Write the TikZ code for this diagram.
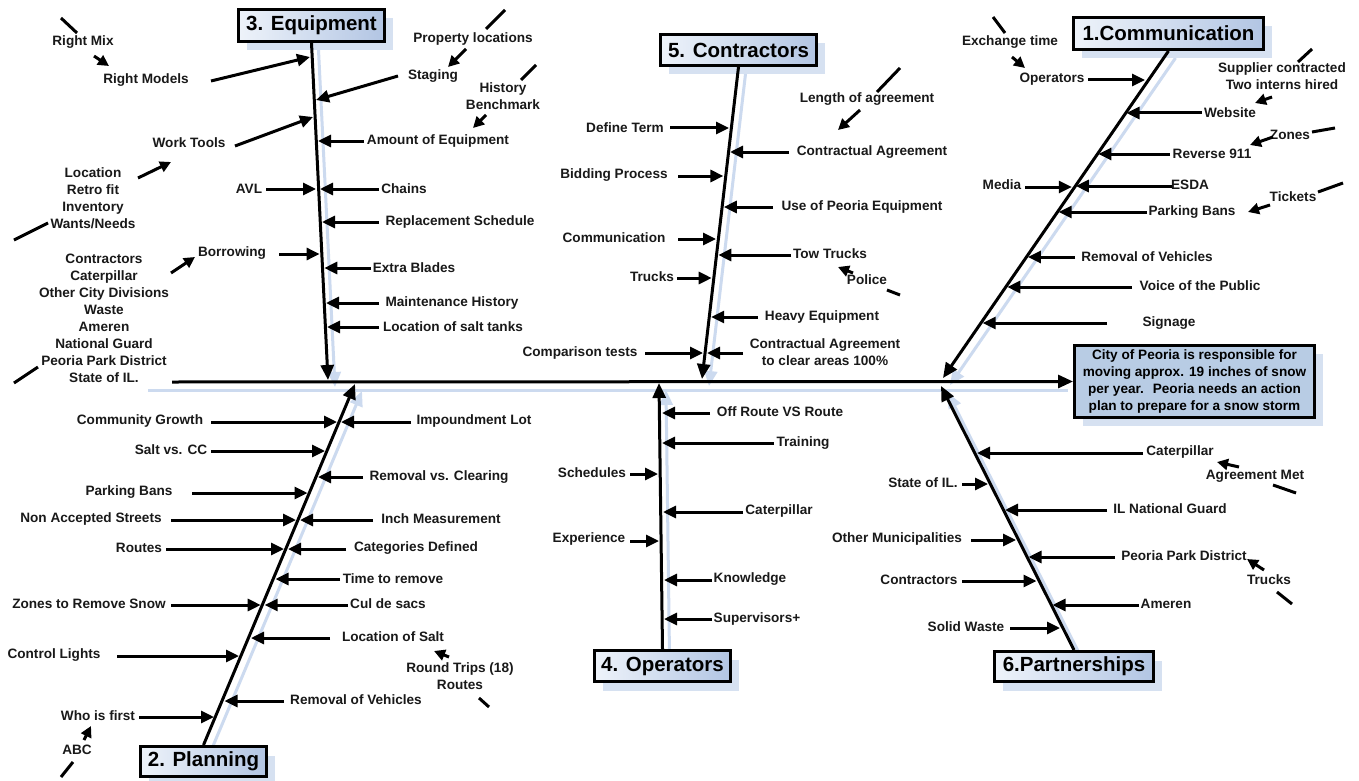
\documentclass[tikz,border=0pt]{standalone}
\usepackage{fontspec}
\setmainfont{Liberation Sans}
\usetikzlibrary{arrows.meta,shadows,backgrounds}
\definecolor{shd}{HTML}{D6E1F1}
\definecolor{bxl}{HTML}{EEF3FA}
\definecolor{bxr}{HTML}{B2C5E3}
\definecolor{mainbx}{HTML}{B8CCE4}
\definecolor{bshd}{HTML}{CCDAEF}
\newcommand\mylbl[4]{\node[lbl] (#1) at (#2,#3) {#4};}
\newcommand\myrib[5]{\coordinate (#1a) at (#2,#3);\coordinate (#1b) at (#4,#5);\draw[rib] (#1a) -- (#1b);}
\newcommand\mystub[5]{\coordinate (#1a) at (#2,#3);\coordinate (#1b) at (#4,#5);\draw[stub] (#1a) -- (#1b);}
\newcommand\mypoint[5]{\coordinate (#1a) at (#2,#3);\coordinate (#1b) at (#4,#5);\draw[ptr] (#1a) -- (#1b);}
\begin{document}
\begin{tikzpicture}[x=1pt,y=-1pt,
  lbl/.style={font=\fontsize{13.6}{17}\selectfont\bfseries, inner sep=0pt, align=center, text=black!90},
  rib/.style={line width=3pt, -{Triangle[length=13pt,width=12pt]}},
  stub/.style={line width=3pt},
  ptr/.style={line width=3pt, -{Triangle[length=11pt,width=11pt]}},
  bone/.style={line width=3pt, -{Triangle[length=15pt,width=13pt]}},
  tbox/.style={draw, line width=3pt, left color=bxl, right color=bxr, inner sep=0pt,
    font=\fontsize{20.5}{24}\selectfont\bfseries,
    drop shadow={shadow xshift=8pt, shadow yshift=-9pt, fill=shd, opacity=1}},
  mbox/.style={draw, line width=3pt, fill=mainbx, inner sep=0pt, align=center,
    font=\fontsize{13.6}{17}\selectfont\bfseries,
    drop shadow={shadow xshift=8pt, shadow yshift=-8pt, fill=shd, opacity=1}}]
\useasboundingbox (0,0) rectangle (1359,781);
\begin{pgfonlayer}{background}
\fill[white] (0,0) rectangle (1359,781);
\end{pgfonlayer}

% category boxes
\node[tbox, minimum width=146pt, minimum height=32pt] (eq) at (311.5,25.5) {3. Equipment};
\node[tbox, minimum width=156pt, minimum height=31pt] (co) at (738.5,50) {5. Contractors};
\node[tbox, minimum width=190pt, minimum height=32pt] (cm) at (1168.5,33.5) {1.Communication};
\node[tbox, minimum width=126pt, minimum height=30pt] (pl) at (203.5,761.5) {2. Planning};
\node[tbox, minimum width=136pt, minimum height=31pt] (op) at (662.5,666) {4. Operators};
\node[tbox, minimum width=159pt, minimum height=30pt] (pa) at (1074,666.5) {6.Partnerships};
\node[mbox, minimum width=240pt, minimum height=72pt] (mn) at (1194.5,381.5)
  {City of Peoria is responsible for\\moving approx. 19 inches of snow\\per year.~ Peoria needs an action\\plan to prepare for a snow storm};

% spine and bones
\coordinate (sp) at (172,382);
\coordinate (eqe) at (328,380);
\coordinate (coe) at (702,379);
\coordinate (cme) at (943,378);
\coordinate (ple) at (355,384);
\coordinate (ope) at (659,383);
\coordinate (pae) at (941,386);
\coordinate (sps) at (148,390);
\coordinate (spe) at (1068,390);
\begin{pgfonlayer}{background}
\draw[line width=3pt, bshd] (sps) -- (spe);
\begin{scope}[transform canvas={shift={(7pt,-7pt)}}]
\draw[bone, bshd] (eq.south) -- (eqe);
\draw[bone, bshd] (co.south) -- (coe);
\draw[bone, bshd] (cm.south) -- (cme);
\draw[bone, bshd] (pl.north) -- (ple);
\draw[bone, bshd] (op.north) -- (ope);
\draw[bone, bshd] (pa.north) -- (pae);
\end{scope}
\end{pgfonlayer}
\draw[bone] (sp) -- (mn.west);
\draw[bone] (eq.south) -- (eqe);
\draw[bone] (co.south) -- (coe);
\draw[bone] (cm.south) -- (cme);
\draw[bone] (pl.north) -- (ple);
\draw[bone] (op.north) -- (ope);
\draw[bone] (pa.north) -- (pae);

% ---- Equipment
\mylbl{e1}{83}{42}{Right Mix}
\mystub{s1}{61}{18}{77}{33}
\mypoint{p1}{94}{56}{109}{66}
\mylbl{e2}{146}{80}{Right Models}
\myrib{r1}{211}{81}{310}{57}
\mylbl{e3}{473}{39}{Property locations}
\mystub{s2}{505}{10}{486}{29}
\mypoint{p2}{466}{49}{448}{67}
\mylbl{e4}{433}{76}{Staging}
\myrib{r2}{398}{76}{316}{100}
\mylbl{e5}{503}{96}{History\\Benchmark}
\mystub{s3}{536}{65}{521}{80}
\mypoint{p3}{486}{115}{473}{128}
\mylbl{e6}{189}{143}{Work Tools}
\myrib{r3}{235}{146}{313}{117}
\mylbl{e7}{438}{141}{Amount of Equipment}
\myrib{r4}{364}{141}{318}{141}
\mylbl{e8}{93}{198.5}{Location\\Retro fit\\Inventory\\Wants/Needs}
\mypoint{p4}{138}{178}{171}{162}
\mystub{s4}{14}{240}{48}{223}
\mylbl{e9}{249}{189}{AVL}
\myrib{r5}{266}{189}{316}{189}
\mylbl{e10}{404}{189}{Chains}
\myrib{r6}{379}{189}{320}{189}
\mylbl{e11}{460}{222}{Replacement Schedule}
\myrib{r7}{379}{222}{322}{222}
\mylbl{e12}{232}{253}{Borrowing}
\myrib{r8}{279}{254}{319.6}{254}
\mypoint{p5}{171}{273}{195}{257}
\mylbl{e13}{104}{318}{Contractors\\Caterpillar\\Other City Divisions\\Waste\\Ameren\\National Guard\\Peoria Park District\\State of IL.}
\mystub{s5}{14}{383}{38}{367}
\mylbl{e14}{414}{268}{Extra Blades}
\myrib{r9}{371}{268}{324.3}{268}
\mylbl{e15}{452}{303}{Maintenance History}
\myrib{r10}{379}{303}{326}{303}
\mylbl{e16}{453}{327}{Location of salt tanks}
\myrib{r11}{379}{327}{327}{327}

% ---- Contractors
\mylbl{c1}{867}{99}{Length of agreement}
\mystub{s6}{900}{68}{877}{92}
\mypoint{p6}{860}{110}{838}{130}
\mylbl{c2}{625}{128}{Define Term}
\myrib{r12}{670}{128}{729}{128}
\mylbl{c3}{872}{152}{Contractual Agreement}
\myrib{r13}{789}{152}{730}{152}
\mylbl{c4}{614}{175}{Bidding Process}
\myrib{r14}{678}{176}{723.4}{176}
\mylbl{c5}{862}{207}{Use of Peoria Equipment}
\myrib{r15}{773}{207}{723.8}{207}
\mylbl{c6}{614}{238}{Communication}
\myrib{r16}{678}{239}{716}{239}
\mylbl{c7}{830}{254}{Tow Trucks}
\myrib{r17}{791}{255}{718.3}{255}
\mylbl{c8}{867}{280}{Police}
\mypoint{p7}{853}{273}{838}{267}
\mystub{s7}{887}{290}{900}{295}
\mylbl{c9}{652}{277}{Trucks}
\myrib{r18}{677}{278}{711.7}{278}
\mylbl{c10}{822}{317}{Heavy Equipment}
\myrib{r19}{758}{317}{711.2}{317}
\mylbl{c11}{580}{353}{Comparison tests}
\myrib{r20}{645}{353}{703}{353}
\mylbl{c12}{825}{352}{Contractual Agreement\\to clear areas 100\%}
\myrib{r21}{743}{353}{707}{353}

% ---- Communication
\mylbl{m1}{1010}{42}{Exchange time}
\mystub{s8}{993}{17}{1005}{33}
\mypoint{p8}{1012}{57}{1025}{68}
\mylbl{m2}{1052}{79}{Operators}
\myrib{r22}{1088}{80}{1145}{80}
\mylbl{m3}{1282}{76.5}{Supplier contracted\\Two interns hired}
\mystub{s9}{1312}{49}{1298}{62}
\mypoint{p9}{1272}{97}{1255}{103}
\mylbl{m4}{1230}{113}{Website}
\myrib{r23}{1202}{113}{1126.5}{113}
\mylbl{m5}{1290}{135}{Zones}
\mystub{s10}{1312}{132}{1335}{128}
\mypoint{p10}{1273}{137}{1250}{145}
\mylbl{m6}{1212}{154}{Reverse 911}
\myrib{r24}{1170}{154}{1098.4}{154}
\mylbl{m7}{1002}{185}{Media}
\myrib{r25}{1025}{187}{1071.8}{187}
\mylbl{m8}{1190}{185}{ESDA}
\myrib{r26}{1172}{186}{1075.8}{186}
\mylbl{m9}{1293}{197}{Tickets}
\mystub{s11}{1318}{192}{1343}{183}
\mypoint{p11}{1270}{205}{1248}{212}
\mylbl{m10}{1192}{212}{Parking Bans}
\myrib{r27}{1147}{212}{1058.7}{212}
\mylbl{m11}{1147}{257}{Removal of Vehicles}
\myrib{r28}{1075}{257}{1027.9}{257}
\mylbl{m12}{1200}{286}{Voice of the Public}
\myrib{r29}{1132}{287}{1007.3}{287}
\mylbl{m13}{1169}{323}{Signage}
\myrib{r30}{1107}{323}{982.7}{323}

% ---- Partnerships
\mylbl{q1}{1180}{452}{Caterpillar}
\myrib{r31}{1143}{453}{977}{453}
\mylbl{q2}{1255}{476}{Agreement Met}
\mypoint{p12}{1239}{467}{1217}{462}
\mystub{s12}{1273}{485}{1296}{493}
\mylbl{q3}{923}{483}{State of IL.}
\myrib{r32}{962}{484}{988}{484}
\mylbl{q4}{1170}{509}{IL National Guard}
\myrib{r33}{1107}{510}{1005}{510}
\mylbl{q5}{897}{539}{Other Municipalities}
\myrib{r34}{971}{540}{1016}{540}
\mylbl{q6}{1184}{556}{Peoria Park District}
\myrib{r35}{1115}{557}{1028.5}{557}
\mylbl{q7}{1269}{580}{Trucks}
\mypoint{p13}{1264}{570}{1247}{559}
\mystub{s13}{1277}{592}{1292}{604}
\mylbl{q8}{919}{580}{Contractors}
\myrib{r36}{962}{581}{1036.5}{581}
\mylbl{q9}{1166}{604}{Ameren}
\myrib{r37}{1139}{605}{1052.5}{605}
\mylbl{q10}{966}{627}{Solid Waste}
\myrib{r38}{1010}{628}{1060}{628}

% ---- Operators
\mylbl{o1}{780}{412}{Off Route VS Route}
\myrib{r39}{710}{413}{662}{413}
\mylbl{o2}{803}{443}{Training}
\myrib{r40}{774}{443}{662}{443}
\mylbl{o3}{592}{473}{Schedules}
\myrib{r41}{630}{474}{658}{474}
\mylbl{o4}{779}{511}{Caterpillar}
\myrib{r42}{743}{512}{663}{512}
\mylbl{o5}{589}{539}{Experience}
\myrib{r43}{630}{541}{659}{541}
\mylbl{o6}{750}{579}{Knowledge}
\myrib{r44}{712}{580}{664}{580}
\mylbl{o7}{757}{619}{Supervisors+}
\myrib{r45}{712}{619}{664}{619}

% ---- Planning
\mylbl{l1}{140}{421}{Community Growth}
\myrib{r46}{211}{422}{337}{422}
\mylbl{l2}{474}{421}{Impoundment Lot}
\myrib{r47}{411}{422}{341}{422}
\mylbl{l3}{171}{450}{Salt vs. CC}
\myrib{r48}{211}{451}{325}{451}
\mylbl{l4}{439}{477}{Removal vs. Clearing}
\myrib{r49}{363}{477}{318}{477}
\mylbl{l5}{129}{492}{Parking Bans}
\myrib{r50}{192}{493}{307.5}{493}
\mylbl{l6}{91}{519}{Non Accepted Streets}
\myrib{r51}{171}{520}{296}{520}
\mylbl{l7}{441}{519}{Inch Measurement}
\myrib{r52}{373}{520}{300}{520}
\mylbl{l8}{139}{548}{Routes}
\myrib{r53}{166}{549}{284}{549}
\mylbl{l9}{416}{548}{Categories Defined}
\myrib{r54}{346}{549}{288}{549}
\mylbl{l10}{393}{579}{Time to remove}
\myrib{r55}{340}{579}{275.5}{579}
\mylbl{l11}{89}{604}{Zones to Remove Snow}
\myrib{r56}{171}{605}{260.7}{605}
\mylbl{l12}{388}{604}{Cul de sacs}
\myrib{r57}{348}{605}{264.7}{605}
\mylbl{l13}{393}{637}{Location of Salt}
\myrib{r58}{330}{638}{251}{638}
\mylbl{l14}{54}{655}{Control Lights}
\myrib{r59}{117}{656}{239}{656}
\mylbl{l15}{460}{676.5}{Round Trips (18)\\Routes}
\mypoint{p14}{449}{657}{434}{651}
\mystub{s14}{479}{698}{489}{707}
\mylbl{l16}{356}{700}{Removal of Vehicles}
\myrib{r60}{284}{701}{224.5}{701}
\mylbl{l17}{98}{716}{Who is first}
\myrib{r61}{139}{717}{214}{717}
\mylbl{l18}{77}{750}{ABC}
\mypoint{p15}{84}{740}{91}{726}
\mystub{s15}{61}{777}{73}{762}
\end{tikzpicture}
\end{document}
